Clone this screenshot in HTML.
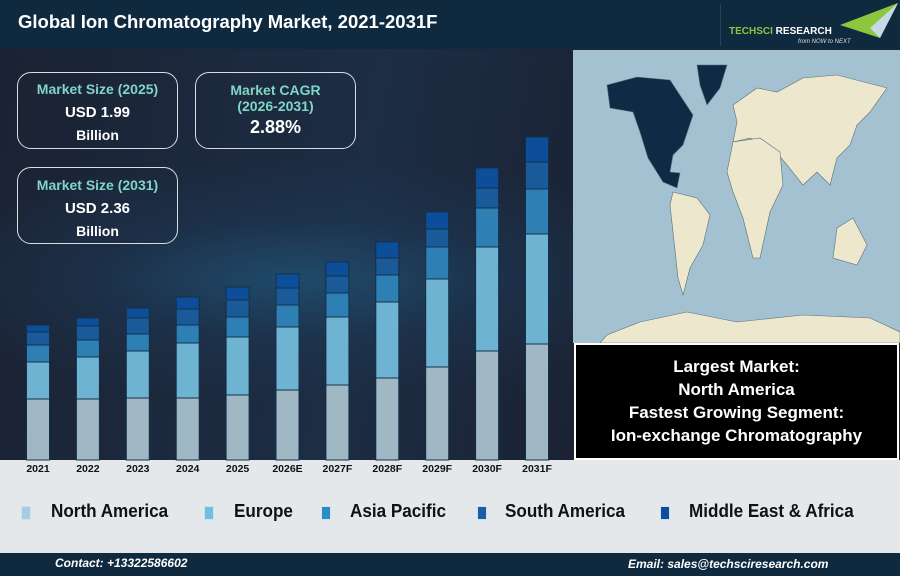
<!DOCTYPE html>
<html><head><meta charset="utf-8"><style>
body{margin:0;width:900px;height:576px;overflow:hidden;font-family:"Liberation Sans",Arial,sans-serif;position:relative;background:#1c2435}
.abs{position:absolute}
.box{position:absolute;border:1.5px solid #d8dde2;border-radius:14px;text-align:center;color:#fff;font-weight:bold;box-sizing:border-box}
.t{color:#7fd6c6;font-size:14px}
.v{font-size:15px}
.leg{position:absolute;top:501px;font-size:18px;font-weight:bold;color:#111;transform:scaleX(0.95);transform-origin:left}
.sw{position:absolute;top:506px;width:8px;height:12px;border:1px solid #cfe3ef}
</style></head><body>
<div class="abs" style="left:0;top:0;width:900px;height:49px;background:#0f2a3f"></div>
<div class="abs" style="left:18px;top:11px;font-size:18.5px;font-weight:bold;color:#fff">Global Ion Chromatography Market, 2021-2031F</div>
<div class="abs" style="left:720px;top:4px;width:1px;height:42px;background:#24435a"></div>
<svg class="abs" style="left:720px;top:0" width="180" height="49">
<polygon points="120,25 178,3 160,38" fill="#8cc63f"/>
<polygon points="150,28 178,3 160,38" fill="#c7d9e6"/>
<text x="9" y="34" font-size="10" font-weight="bold" fill="#8cc63f" font-family="Liberation Sans">TECHSCI <tspan fill="#fff">RESEARCH</tspan></text>
<text x="78" y="43" font-size="6" font-style="italic" fill="#ddd" font-family="Liberation Sans">from NOW to NEXT</text>
</svg>
<div class="abs" style="left:0;top:49px;width:573px;height:411px;background:radial-gradient(ellipse 420px 120px at 300px 230px,#1f4a6a 0%,rgba(30,60,90,0.4) 50%,rgba(28,36,53,0) 100%),linear-gradient(100deg,#1b2233,#1c2d44 60%,#1b2233)"></div>
<div class="box" style="left:17px;top:72px;width:161px;height:77px"><div class="t" style="margin-top:8px">Market Size (2025)</div><div class="v" style="margin-top:7px">USD 1.99</div><div class="v" style="font-size:14px;margin-top:6px">Billion</div></div>
<div class="box" style="left:195px;top:72px;width:161px;height:77px"><div class="t" style="margin-top:9px;line-height:16px">Market CAGR<br>(2026-2031)</div><div class="v" style="font-size:18px;margin-top:3px">2.88%</div></div>
<div class="box" style="left:17px;top:167px;width:161px;height:77px"><div class="t" style="margin-top:9px">Market Size (2031)</div><div class="v" style="margin-top:7px">USD 2.36</div><div class="v" style="font-size:14px;margin-top:6px">Billion</div></div>
<div class="abs" style="left:0;top:460px;width:900px;height:93px;background:#e4e8ea"></div>
<svg class="abs" style="left:0;top:0" width="573" height="480" id="ch"></svg>
<svg class="abs" style="left:573px;top:50px" width="327" height="293">
<rect width="327" height="293" fill="#a3c1d0"/>
<g transform="translate(-573,-50)" fill="#ede8cd" stroke="#5a6f7a" stroke-width="0.6">
<polygon fill="#0f2a44" points="607,85 637,77 670,80 693,115 683,145 673,155 670,172 680,173 677,188 663,182 648,158 640,132 633,112 610,108"/>
<polygon fill="#0f2a44" points="697,65 727,65 720,88 707,105 700,85"/>
<polygon points="673,192 697,198 710,215 703,245 690,268 683,295 678,278 673,232 670,205"/>
<polygon points="733,105 757,88 777,92 803,78 837,75 887,88 870,112 857,125 850,145 837,158 830,185 817,172 803,185 787,165 770,145 750,138 733,142 737,122"/>
<polygon points="733,142 760,138 780,152 783,185 770,212 760,258 753,258 743,218 733,192 727,172"/>
<polygon points="837,228 853,218 867,245 857,265 833,258"/>
<polygon points="607,335 640,322 687,312 737,322 803,315 870,318 900,332 900,343 600,343"/>
</g>
</svg>
<div class="abs" style="left:574px;top:343px;width:325px;height:117px;background:#000;border:2px solid #fff;box-sizing:border-box;color:#fff;font-weight:bold;font-size:17px;text-align:center;line-height:23px;padding-top:10px">Largest Market:<br>North America<br>Fastest Growing Segment:<br>Ion-exchange Chromatography</div>
<div class="sw" style="left:21px;background:#a9cde0"></div><div class="leg" style="left:51px">North America</div>
<div class="sw" style="left:204px;background:#6fbfe0"></div><div class="leg" style="left:234px">Europe</div>
<div class="sw" style="left:321px;background:#2e8cc4"></div><div class="leg" style="left:350px">Asia Pacific</div>
<div class="sw" style="left:477px;background:#1a5ea8"></div><div class="leg" style="left:505px">South America</div>
<div class="sw" style="left:660px;background:#0d4e9e"></div><div class="leg" style="left:689px">Middle East &amp; Africa</div>
<div class="abs" style="left:0;top:553px;width:900px;height:23px;background:#0f2a3f"></div>
<div class="abs" style="left:55px;top:556px;font-size:12px;font-weight:bold;font-style:italic;color:#fff">Contact: +13322586602</div>
<div class="abs" style="left:628px;top:557px;font-size:12px;font-weight:bold;font-style:italic;color:#fff">Email: sales@techsciresearch.com</div>
<script>
var d=[["2021",325,332,345,362,399],["2022",318,326,340,357,399],["2023",308,318,334,351,398],["2024",297,309,325,343,398],["2025",287,300,317,337,395],["2026E",274,288,305,327,390],["2027F",262,276,293,317,385],["2028F",242,258,275,302,378],["2029F",212,229,247,279,367],["2030F",168,188,208,247,351],["2031F",137,162,189,234,344]];
var c=["#0d4e9a","#1a5a98","#2e7fb3","#6fb3d3","#9fb8c4"];
var s="";
d.forEach(function(r,i){var cx=38+i*49.9,x=cx-11.5;
for(var k=0;k<5;k++){var y0=r[k+1],y1=k<4?r[k+2]:460;s+='<rect x="'+x+'" y="'+y0+'" width="23" height="'+(y1-y0)+'" fill="'+c[k]+'" stroke="#13304a" stroke-width="1"/>';}
s+='<text x="'+cx+'" y="472" text-anchor="middle" font-size="10.5" font-weight="bold" fill="#111" font-family="Liberation Sans">'+r[0]+'</text>';});
document.getElementById("ch").innerHTML=s;
</script>
</body></html>
